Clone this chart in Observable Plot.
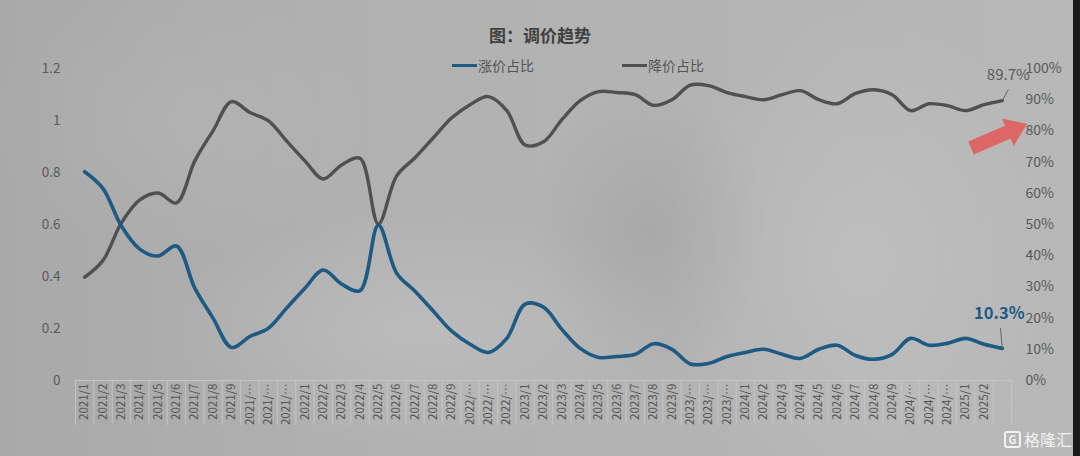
<!DOCTYPE html>
<html><head><meta charset="utf-8">
<script src="https://cdn.jsdelivr.net/npm/d3@7"></script>
<script src="https://cdn.jsdelivr.net/npm/@observablehq/plot@0.6"></script>
<style>
html,body{margin:0;padding:0;background:#b0b0b0;}
#wrap{position:relative;width:1080px;height:456px;overflow:hidden;
 font-family:"Noto Sans CJK SC","Noto Sans",sans-serif;
 background:
  radial-gradient(ellipse 120px 150px at 650px 230px, rgba(0,0,0,0.06), rgba(0,0,0,0)),
  radial-gradient(ellipse 260px 120px at 420px 330px, rgba(255,255,255,0.13), rgba(255,255,255,0)),
  radial-gradient(ellipse 200px 260px at 860px 260px, rgba(255,255,255,0.12), rgba(255,255,255,0)),
  radial-gradient(ellipse 200px 140px at 180px 120px, rgba(255,255,255,0.06), rgba(255,255,255,0)),
  linear-gradient(90deg, #a9a9a9 0%, #b1b1b1 35%, #b4b4b4 70%, #b8b8b8 100%);}
#edge{position:absolute;right:0;top:0;width:7px;height:456px;background:#1a1a1a;}
#title{position:absolute;left:0;width:1080px;top:24px;text-align:center;font-weight:bold;font-size:17px;color:#404040;line-height:22px;}
.leg{position:absolute;top:56px;font-size:14px;color:#555;display:flex;align-items:center;line-height:18px;white-space:nowrap;}
.sw{display:inline-block;width:25px;height:3px;margin-right:1px;}
#chart{position:absolute;left:0;top:0;}
#overlay{position:absolute;left:0;top:0;}
#wm{position:absolute;left:1004px;top:430px;width:72px;color:#f2f2f2;font-size:16px;line-height:18px;display:flex;align-items:center;white-space:nowrap;}
#wm .g{display:inline-block;width:13px;height:13px;border:2px solid #f2f2f2;border-radius:3px;font-size:11px;line-height:13px;text-align:center;font-weight:bold;margin-right:3px;}
</style></head>
<body>
<div id="wrap">
  <div id="chart"></div>
  <div id="title">图：调价趋势</div>
  <div class="leg" style="left:452px;"><span class="sw" style="background:#1d5a84"></span>涨价占比</div>
  <div class="leg" style="left:622px;"><span class="sw" style="background:#505050"></span>降价占比</div>
  <svg id="overlay" width="1080" height="456">
    <polygon points="968.2,141.6 1005,125.8 1001.9,118.4 1027,124 1013.7,146 1010.6,138.6 973.8,154.4" fill="#e06060" fill-opacity="0.92"/>
  </svg>
  <div id="wm"><span class="g">G</span>格隆汇</div>
  <div id="edge"></div>
</div>
<script>
const months = ["2021/1","2021/2","2021/3","2021/4","2021/5","2021/6","2021/7","2021/8","2021/9","2021/…","2021/…","2021/…",
  "2022/1","2022/2","2022/3","2022/4","2022/5","2022/6","2022/7","2022/8","2022/9","2022/…","2022/…","2022/…",
  "2023/1","2023/2","2023/3","2023/4","2023/5","2023/6","2023/7","2023/8","2023/9","2023/…","2023/…","2023/…",
  "2024/1","2024/2","2024/3","2024/4","2024/5","2024/6","2024/7","2024/8","2024/9","2024/…","2024/…","2024/…",
  "2025/1","2025/2",""];
const upShare = [66.9,61.5,49.5,42.1,39.9,43.1,29.6,19.9,10.6,14.1,16.7,23.2,29.6,35.4,30.9,28.8,49.8,34.4,28.6,22.2,15.8,11.6,9.0,13.5,24.5,23.5,16.4,10.3,7.4,7.7,8.4,11.8,10.0,5.3,5.5,7.7,9.0,10.0,8.4,7.1,10.0,11.3,8.0,6.8,8.4,13.5,11.3,11.9,13.5,11.6,10.3];
const downShare = [33.1,38.5,50.5,57.9,60.1,56.9,70.4,80.1,89.4,85.9,83.3,76.8,70.4,64.6,69.1,71.2,50.2,65.6,71.4,77.8,84.2,88.4,91.0,86.5,75.5,76.5,83.6,89.7,92.6,92.3,91.6,88.2,90.0,94.7,94.5,92.3,91.0,90.0,91.6,92.9,90.0,88.7,92.0,93.2,91.6,86.5,88.7,88.1,86.5,88.4,89.7];
const leftTicks = [0,0.2,0.4,0.6,0.8,1,1.2];
const rightTicks = [0,10,20,30,40,50,60,70,80,90,100];

const data = months.map((m, i) => ({i, m, up: upShare[i], down: downShare[i]}));
const last = data[data.length - 1];
const leftMax = 1.2;
const bounds = d3.range(months.length + 1).map(i => i - 0.5);

const chart = Plot.plot({
  width: 1080, height: 456,
  marginLeft: 75, marginRight: 69, marginTop: 68, marginBottom: 76,
  style: {background: "transparent", fontFamily: "'Noto Sans CJK SC','Noto Sans',sans-serif", fontSize: "13px", color: "#595959"},
  x: {type: "linear", domain: [-0.5, months.length - 0.5], label: null},
  y: {domain: [0, 100], label: null},
  marks: [
    Plot.axisY(leftTicks.map(v => v / leftMax * 100), {anchor: "left", tickSize: 0, tickPadding: 15, label: null,
      tickFormat: d => d3.format("~g")(+(d * leftMax / 100).toFixed(1)), fill: "#595959", fontSize: 13.5}),
    Plot.axisY(rightTicks, {anchor: "right", tickSize: 0, tickPadding: 14, label: null,
      tickFormat: d => d + "%", fill: "#595959", fontSize: 14}),
    Plot.axisX(bounds, {anchor: "bottom", tickSize: 45, tickFormat: () => "", stroke: "#c4c4c4", label: null}),
    Plot.axisX(d3.range(months.length), {anchor: "bottom", tickSize: 0, tickPadding: 3, tickRotate: -90, label: null,
      tickFormat: i => months[i], fill: "#555", fontSize: 11.5}),
    Plot.ruleY([0], {stroke: "#c4c4c4"}),
    Plot.line(data, {x: "i", y: "down", stroke: "#505050", strokeWidth: 3.4, curve: "catmull-rom"}),
    Plot.line(data, {x: "i", y: "up", stroke: "#1d5a84", strokeWidth: 3.6, curve: "catmull-rom"}),
    Plot.link([last], {x1: "i", y1: "down", x2: d => d.i + 0.33, y2: d => d.down + 3.6, stroke: "#666", strokeWidth: 1}),
    Plot.link([last], {x1: "i", y1: "up", x2: d => d.i - 0.1, y2: d => d.up + 6.6, stroke: "#666", strokeWidth: 1}),
    Plot.text([last], {x: "i", y: "down", text: d => d.down + "%", dx: 6, dy: -25, fill: "#5a5a5a", fontSize: 15}),
    Plot.text([last], {x: "i", y: "up", text: d => d.up + "%", dx: -3, dy: -35, fill: "#1d5a84", fontSize: 16.5, fontWeight: "bold"})
  ]
});
document.getElementById("chart").appendChild(chart);
</script>
</body></html>
